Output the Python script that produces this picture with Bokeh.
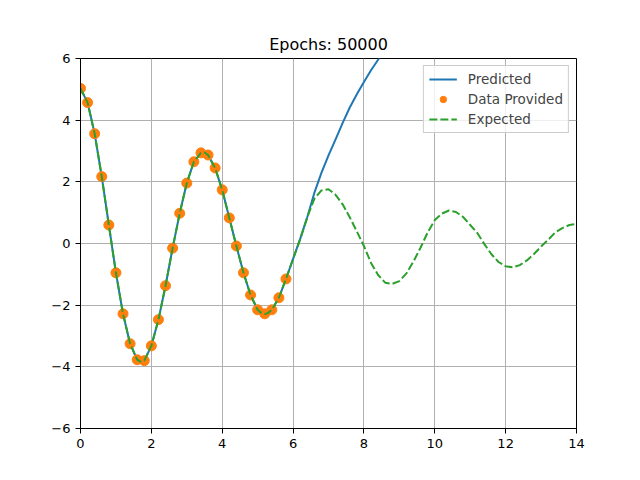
from bokeh.plotting import figure
from bokeh.models import FixedTicker, Range1d
from bokeh.embed import file_html
from bokeh.resources import INLINE

# training samples
x_data = [0.0, 0.2, 0.4, 0.6, 0.8, 1.0, 1.2, 1.4, 1.6, 1.8,
          2.0, 2.2, 2.4, 2.6, 2.8, 3.0, 3.2, 3.4, 3.6, 3.8,
          4.0, 4.2, 4.4, 4.6, 4.8, 5.0, 5.2, 5.4, 5.6, 5.8]
y_data = [5.03, 4.57, 3.56, 2.17, 0.60, -0.95, -2.28, -3.25, -3.77, -3.80,
          -3.32, -2.47, -1.37, -0.15, 0.98, 1.96, 2.65, 2.94, 2.87, 2.45,
          1.74, 0.83, -0.08, -0.95, -1.67, -2.15, -2.28, -2.15, -1.76, -1.15]

# exact solution, dashed curve
x_expected = [0.0, 0.2, 0.4, 0.6, 0.8, 1.0, 1.2, 1.4, 1.6, 1.7, 1.8,
              2.0, 2.2, 2.4, 2.6, 2.8, 3.0, 3.2, 3.4, 3.5, 3.6, 3.8,
              4.0, 4.2, 4.4, 4.6, 4.8, 5.0, 5.1, 5.2, 5.3, 5.4, 5.6, 5.8,
              6.0, 6.2, 6.4, 6.6, 6.8, 7.0, 7.2, 7.4, 7.6, 7.8,
              8.0, 8.2, 8.4, 8.6, 8.8, 9.0, 9.2, 9.4, 9.6, 9.8,
              10.0, 10.2, 10.4, 10.6, 10.8, 11.0, 11.2, 11.4, 11.6, 11.8,
              12.0, 12.2, 12.4, 12.6, 12.8, 13.0, 13.2, 13.4, 13.6, 13.8, 14.0]
y_expected = [5.03, 4.57, 3.56, 2.17, 0.60, -0.95, -2.28, -3.25, -3.77, -3.83, -3.80,
              -3.32, -2.47, -1.37, -0.15, 0.98, 1.96, 2.65, 2.94, 2.95, 2.87, 2.45,
              1.74, 0.83, -0.08, -0.95, -1.67, -2.15, -2.25, -2.29, -2.25, -2.15, -1.76, -1.15,
              -0.50, 0.13, 0.85, 1.45, 1.72, 1.76, 1.58, 1.27, 0.85, 0.39,
              -0.08, -0.63, -1.02, -1.27, -1.31, -1.22, -0.97, -0.58, -0.13, 0.36,
              0.76, 0.97, 1.07, 1.02, 0.86, 0.60, 0.34, -0.02, -0.35, -0.60,
              -0.74, -0.77, -0.70, -0.55, -0.34, -0.10, 0.12, 0.36, 0.50, 0.60, 0.64]

# network output, leaves the data after ~6.5
x_pred = [0.0, 0.2, 0.4, 0.6, 0.8, 1.0, 1.2, 1.4, 1.6, 1.7, 1.8,
          2.0, 2.2, 2.4, 2.6, 2.8, 3.0, 3.2, 3.4, 3.5, 3.6, 3.8,
          4.0, 4.2, 4.4, 4.6, 4.8, 5.0, 5.1, 5.2, 5.3, 5.4, 5.6, 5.8,
          6.0, 6.2, 6.4, 6.6, 6.8, 7.0, 7.2, 7.4, 7.6, 7.8,
          8.0, 8.2, 8.4, 8.6, 8.8]
y_pred = [5.03, 4.57, 3.56, 2.17, 0.60, -0.95, -2.28, -3.25, -3.77, -3.83, -3.80,
          -3.32, -2.47, -1.37, -0.15, 0.98, 1.96, 2.65, 2.94, 2.95, 2.87, 2.45,
          1.74, 0.83, -0.08, -0.95, -1.67, -2.15, -2.25, -2.29, -2.25, -2.15, -1.76, -1.15,
          -0.50, 0.15, 0.85, 1.64, 2.29, 2.86, 3.38, 3.91, 4.41, 4.84,
          5.24, 5.62, 5.96, 6.30, 6.60]

x_ticks = [0, 2, 4, 6, 8, 10, 12, 14]
y_ticks = [-6, -4, -2, 0, 2, 4, 6]
title = "Epochs: 50000"

FONT = "DejaVu Sans"

p = figure(frame_width=496, frame_height=370,
           min_border_left=80, min_border_right=64,
           min_border_top=58, min_border_bottom=52,
           x_range=Range1d(0, 14), y_range=Range1d(-6, 6),
           output_backend="svg", toolbar_location=None, title=title)

p.title.align = "center"
p.title.text_font = FONT
p.title.text_font_size = "16px"
p.title.text_font_style = "normal"
p.title.text_color = "black"
p.title.standoff = 10

p.outline_line_color = "black"
p.outline_line_alpha = 1.0
p.outline_line_width = 1

for ax in (p.xaxis, p.yaxis):
    ax.major_tick_in = 0
    ax.major_tick_out = 5
    ax.minor_tick_line_color = None
    ax.major_label_text_font = FONT
    ax.major_label_text_font_size = "13px"
    ax.major_label_text_color = "black"
    ax.axis_line_color = "black"
    ax.major_tick_line_color = "black"
    ax.major_label_standoff = 5

p.xaxis.ticker = FixedTicker(ticks=x_ticks)
p.yaxis.ticker = FixedTicker(ticks=y_ticks)
p.yaxis.major_label_overrides = {t: str(t).replace("-", "\u2212") for t in y_ticks}

p.grid.grid_line_color = "#b0b0b0"
p.grid.grid_line_width = 1

p.line(x_pred, y_pred, line_color="#1f77b4", line_width=2, legend_label="Predicted")
p.scatter(x_data, y_data, size=10, fill_color="#ff7f0e", line_color="#ff7f0e",
          legend_label="Data Provided")
p.line(x_expected, y_expected, line_color="#2ca02c", line_width=2,
       line_dash="8 3", legend_label="Expected")

p.legend.location = "top_right"
p.legend.margin = 7
p.legend.padding = 5
p.legend.spacing = 4
p.legend.glyph_width = 28
p.legend.glyph_height = 16
p.legend.label_height = 16
p.legend.label_standoff = 11
p.legend.label_text_font = FONT
p.legend.label_text_font_size = "13.5px"
p.legend.border_line_color = "#cccccc"
p.legend.border_line_alpha = 1.0
p.legend.background_fill_alpha = 0.8

open("out.html", "w").write(file_html(p, INLINE))
